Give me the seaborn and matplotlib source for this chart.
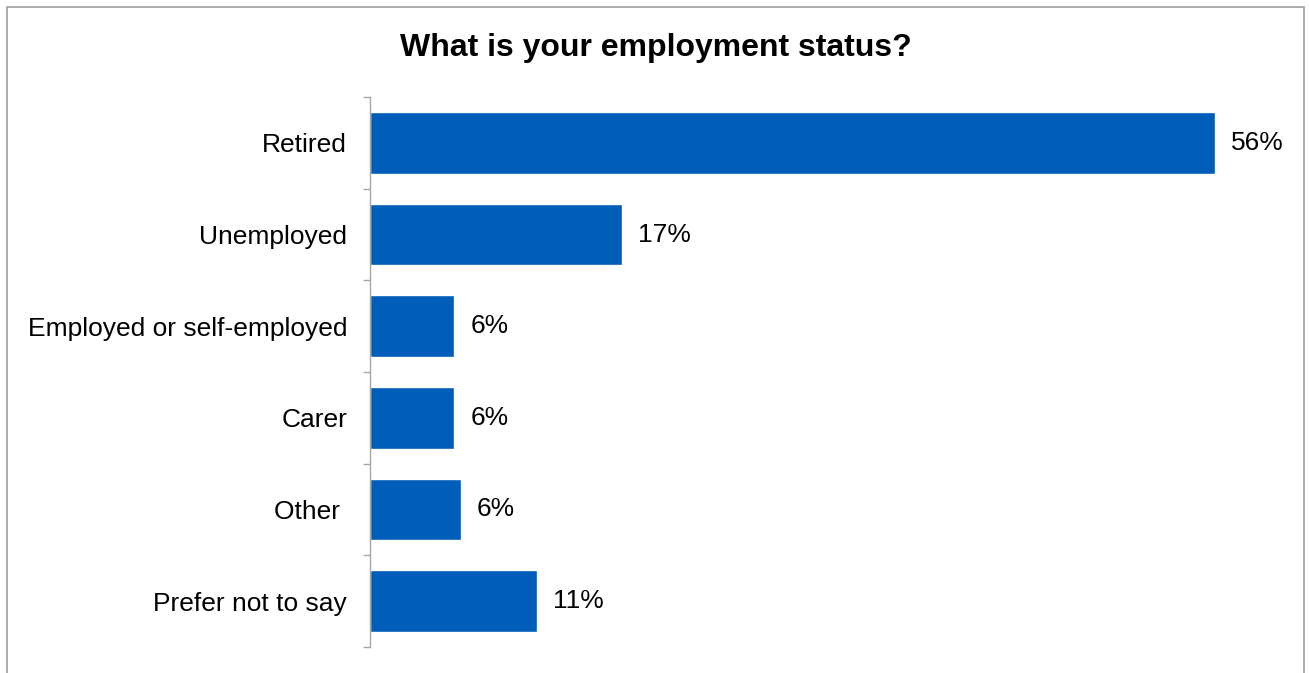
import matplotlib
matplotlib.use("Agg")
import matplotlib.pyplot as plt
import matplotlib.patches as patches
import seaborn as sns
import pandas as pd

categories = ["Retired", "Unemployed", "Employed or self-employed", "Carer", "Other ", "Prefer not to say"]
values = [56.0, 16.7, 5.6, 5.6, 6.0, 11.1]

df = pd.DataFrame({"status": categories, "pct": values})

sns.set_style("white")
plt.rcParams["font.family"] = ["Liberation Sans", "DejaVu Sans"]
plt.rcParams["text.color"] = "black"
plt.rcParams["ytick.labelcolor"] = "black"

fig = plt.figure(figsize=(13.09, 6.73), dpi=100)
ax = fig.add_axes([370 / 1309, 26 / 673, 920 / 1309, 550 / 673])

sns.barplot(data=df, y="status", x="pct", orient="h", color="#005EB8",
            width=0.67, saturation=1, ax=ax, errorbar=None)

ax.set_xlim(0, 920 / (845 / 56))
ax.set_ylim(len(categories) - 0.5, -0.5)
ax.bar_label(ax.containers[0], fmt="%.0f%%", padding=11.5, fontsize=19, color="black")

ax.set_xlabel("")
ax.set_ylabel("")
ax.set_xticks([])
ax.set_yticks(range(len(categories)))
ax.set_yticklabels(categories, fontsize=19, color="black")
ax.set_yticks([i - 0.5 for i in range(len(categories) + 1)], minor=True)
ax.tick_params(axis="y", which="major", length=0, pad=16.5)
ax.tick_params(axis="y", which="minor", length=5, color="#A6A6A6", width=1, left=True)
for s in ["top", "right", "bottom"]:
    ax.spines[s].set_visible(False)
ax.spines["left"].set_color("#A6A6A6")
ax.spines["left"].set_linewidth(1)

fig.text(656 / 1309, 1 - 48 / 673, "What is your employment status?", ha="center", va="center",
         fontsize=23, fontweight="bold", color="black")

frame = patches.Rectangle((7 / 1309, -0.1), (1304 - 7) / 1309, 1.1 - 7 / 673,
                          transform=fig.transFigure, fill=False, edgecolor="#A0A0A0",
                          linewidth=1.2, clip_on=False)
fig.patches.append(frame)

fig.savefig("out.png", dpi=100)
